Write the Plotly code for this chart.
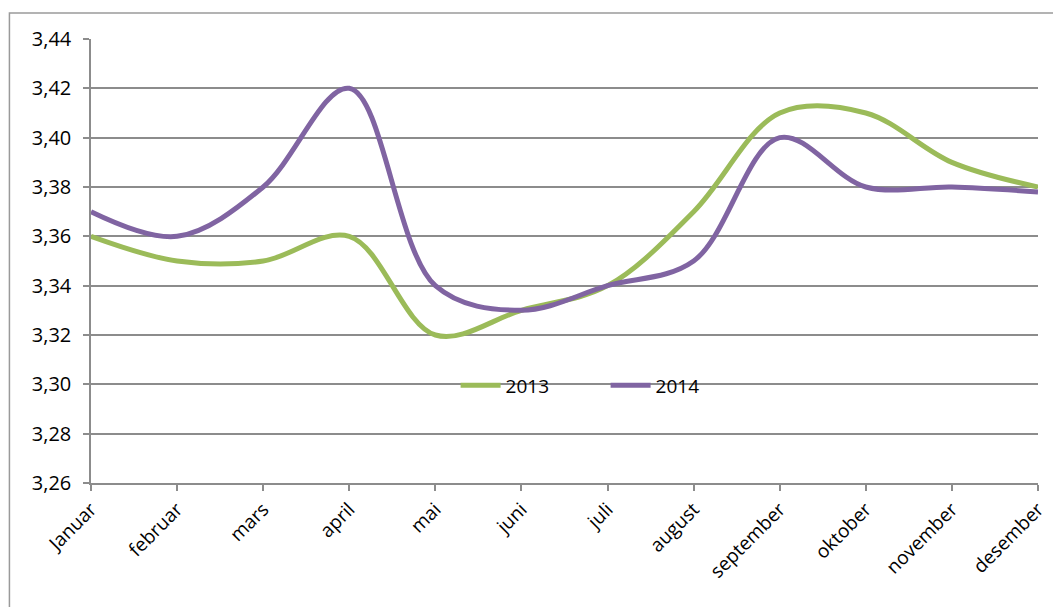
import plotly.graph_objects as go

months = ["Januar", "februar", "mars", "april", "mai", "juni", "juli",
          "august", "september", "oktober", "november", "desember"]
v2013 = [3.36, 3.35, 3.35, 3.36, 3.32, 3.33, 3.34, 3.37, 3.41, 3.41, 3.39, 3.38]
v2014 = [3.37, 3.36, 3.38, 3.42, 3.34, 3.33, 3.34, 3.35, 3.40, 3.38, 3.38, 3.378]
yticks = [3.26, 3.28, 3.30, 3.32, 3.34, 3.36, 3.38, 3.40, 3.42, 3.44]

FONT = "Open Sans"
GRID = "#8c8c8c"

fig = go.Figure()
fig.add_trace(go.Scatter(x=months, y=v2013, name="2013", mode="lines",
                         line=dict(color="#9BBB59", width=5, shape="spline", smoothing=1.0)))
fig.add_trace(go.Scatter(x=months, y=v2014, name="2014", mode="lines",
                         line=dict(color="#8064A2", width=5, shape="spline", smoothing=1.0)))

fig.update_layout(
    width=1053, height=599,
    margin=dict(l=83, r=18, t=31, b=124),
    paper_bgcolor="white", plot_bgcolor="white",
    separators=", ",
    font=dict(family=FONT, color="black"),
    showlegend=True,
    legend=dict(orientation="h", x=0.385, y=0.22, xanchor="left", yanchor="middle",
                bgcolor="rgba(0,0,0,0)", font=dict(size=19, family=FONT),
                itemwidth=40, tracegroupgap=0, entrywidthmode="pixels", entrywidth=95),
    xaxis=dict(type="category", range=[0, 11], showgrid=False,
               showline=True, linecolor=GRID, linewidth=1.5,
               ticks="outside", ticklen=6, tickcolor=GRID, tickwidth=1.5,
               tickangle=-45, tickfont=dict(size=19, family=FONT)),
    yaxis=dict(range=[3.26, 3.44], tickvals=yticks, tickformat=".2f",
               showgrid=True, gridcolor=GRID, gridwidth=1.5,
               showline=True, linecolor=GRID, linewidth=1.5,
               ticks="outside", ticklen=6, tickcolor=GRID, tickwidth=1.5,
               ticklabelstandoff=8,
               tickfont=dict(size=20, family=FONT), zeroline=False),
    shapes=[dict(type="rect", xref="paper", yref="paper",
                 x0=-82/952, x1=1.1, y0=-0.5, y1=(483-13)/444,
                 line=dict(color="#9a9a9a", width=1.5), fillcolor="rgba(0,0,0,0)",
                 layer="below")],
)

fig.write_html("out.html")
